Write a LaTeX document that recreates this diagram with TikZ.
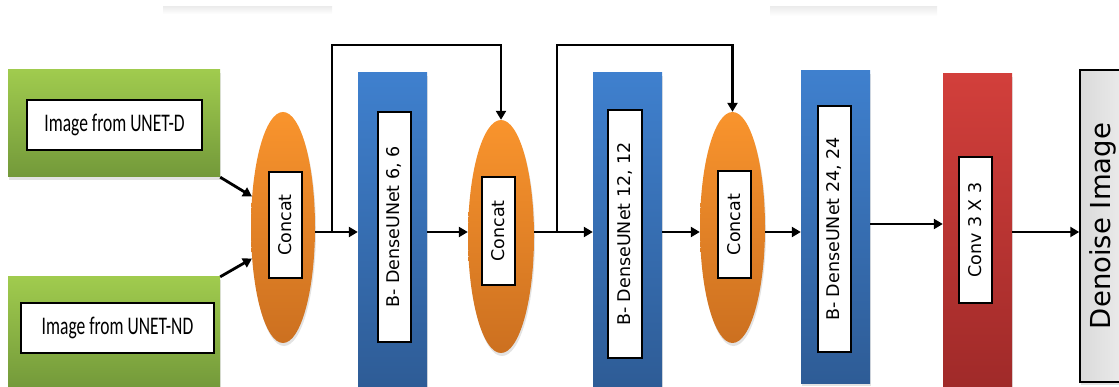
\documentclass[tikz,border=0pt]{standalone}
\usepackage{graphicx}
\usepackage{fontspec}
\setmainfont{Carlito}
\newfontfamily\dvs{DejaVu Sans}
\usetikzlibrary{shapes.geometric,arrows.meta,shadows}
\definecolor{grtop}{HTML}{A0CB4E}
\definecolor{grbot}{HTML}{73993A}
\definecolor{bltop}{HTML}{3F80CE}
\definecolor{blbot}{HTML}{2E5C96}
\definecolor{ortop}{HTML}{F9942D}
\definecolor{orbot}{HTML}{CC7020}
\definecolor{rdtop}{HTML}{D23F3B}
\definecolor{rdbot}{HTML}{A02A29}
\definecolor{gyl}{HTML}{DADADA}
\definecolor{gyr}{HTML}{F2F2F2}
\newcommand{\ystretch}[1]{\scalebox{1}[1.45]{#1}}
\tikzset{
  shad/.style={drop shadow={opacity=0.22,shadow xshift=1pt,shadow yshift=-3pt}},
  greenbox/.style={rectangle,top color=grtop,bottom color=grbot,draw=none,minimum width=212pt,inner sep=0pt,shad},
  bluebox/.style={rectangle,top color=bltop,bottom color=blbot,draw=none,minimum width=69pt,inner sep=0pt,shad},
  redbox/.style={rectangle,top color=rdtop,bottom color=rdbot,draw=none,minimum width=69pt,inner sep=0pt,shad},
  concatnode/.style={ellipse,top color=ortop,bottom color=orbot,draw=none,inner sep=0pt,shad},
  hlabel/.style={rectangle,draw=black,line width=1.6pt,fill=white,inner sep=0pt,font=\fontsize{17.5}{20}\selectfont},
  vlabel/.style={rectangle,draw=black,line width=1.6pt,fill=white,inner sep=0pt,rotate=90,minimum height=33pt,font=\dvs\fontsize{17.5}{20}\selectfont},
  arr/.style={line width=2.8pt,-{Triangle[length=9pt,width=10pt]}},
}
\begin{document}
\begin{tikzpicture}[x=1pt,y=-1pt]
\useasboundingbox (0,0) rectangle (1119,387);
\clip (0,0) rectangle (1119,387);
% faint top remnants
\shade[top color=gray!14,bottom color=white] (163,7) rectangle (332,14);
\shade[top color=gray!14,bottom color=white] (770,7) rectangle (937,16);
% inputs
\node[greenbox,minimum height=107pt] (g1) at (114,123.5) {};
\node[hlabel,minimum width=175pt,minimum height=50pt] (g1t) at (114.5,125) {\ystretch{Image from UNET-D}};
\node[greenbox,minimum height=112pt] (g2) at (114,333) {};
\node[hlabel,minimum width=193pt,minimum height=50pt] (g2t) at (117.5,328) {\ystretch{Image from UNET-ND}\hspace{12pt}};
% concat 1
\node[concatnode,minimum width=64pt,minimum height=231pt] (c1) at (283,227.5) {};
\node[vlabel,minimum width=106pt] (c1t) at (285.5,225) {Concat};
% dense 1
\node[bluebox,minimum height=314pt] (b1) at (392.5,230) {};
\node[vlabel,minimum width=230pt] (b1t) at (394.5,227) {B- DenseUNet 6, 6};
% concat 2
\node[concatnode,minimum width=66pt,minimum height=233pt] (c2) at (501,236.5) {};
\node[vlabel,minimum width=108pt] (c2t) at (498.5,231) {Concat};
% dense 2
\node[bluebox,minimum height=314pt] (b2) at (627.5,230) {};
\node[vlabel,minimum width=248pt,minimum height=34pt] (b2t) at (625,234) {B- DenseUNet 12, 12};
% concat 3
\node[concatnode,minimum width=65pt,minimum height=231pt] (c3) at (732.5,227.5) {};
\node[vlabel,minimum width=107pt] (c3t) at (734.5,224.5) {Concat};
% dense 3
\node[bluebox,minimum height=312pt] (b3) at (835.5,227) {};
\node[vlabel,minimum width=246pt] (b3t) at (834.5,229) {B- DenseUNet 24, 24};
% conv
\node[redbox,minimum height=313pt] (conv) at (977.5,230.5) {};
\node[vlabel,minimum width=146pt] (convt) at (975.5,230) {Conv 3 X 3};
% output
\node[rectangle,left color=gyl,right color=gyr,draw=black,line width=1.5pt,minimum width=62pt,minimum height=312pt,inner sep=0pt,shad] (den) at (1111,226) {};
\node[rotate=90,inner sep=0pt,font=\dvs\fontsize{27.5}{32}\selectfont] (dent) at (1103,226) {Denoise Image};
% connectors
\coordinate (m) at (0,232);
\draw[arr] (g1.south east) -- (c1.135);
\draw[arr] (g2.north east) -- (c1.225);
\draw[arr] (c1.east |- m) -- (b1.west |- m);
\draw[arr] (b1.east |- m) -- (c2.west |- m);
\draw[arr] (c2.east |- m) -- (b2.west |- m);
\draw[arr] (b2.east |- m) -- (c3.west |- m);
\draw[arr] (c3.east |- m) -- (b3.west |- m);
\coordinate (m2) at (0,224);
\draw[arr] (b3.east |- m2) -- (conv.west |- m2);
\draw[arr] (conv.east |- m) -- (den.west |- m);
\coordinate (s1) at (332,232);
\coordinate (t1) at (332,45);
\draw[arr] (s1) -- (t1) -| (c2.north);
\coordinate (s2) at (557,232);
\coordinate (t2) at (557,45);
\draw[arr] (s2) -- (t2) -| (c3.north);
\end{tikzpicture}
\end{document}
